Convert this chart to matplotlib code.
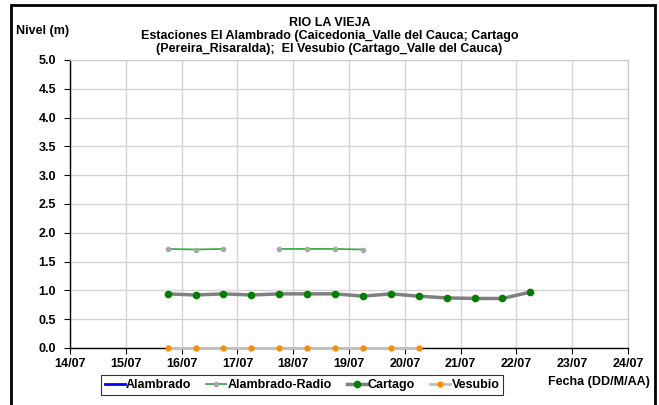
import pandas as pd
import numpy as np
import matplotlib
matplotlib.use("Agg")
import matplotlib.pyplot as plt
import matplotlib.dates as mdates
from matplotlib.patches import Rectangle

plt.rcParams['font.family'] = ['Liberation Sans', 'DejaVu Sans']
plt.rcParams['font.weight'] = 'bold'

# Data (12-hour readings)
cartago_times = pd.date_range("2011-07-15 18:00", periods=14, freq="12h")
cartago = [0.94, 0.92, 0.94, 0.92, 0.94, 0.94, 0.94, 0.90, 0.94, 0.90, 0.87, 0.86, 0.86, 0.97]

vesubio_times = pd.date_range("2011-07-15 18:00", periods=10, freq="12h")
vesubio = [0.0, 0.0, 0.0, 0.0, 0.0, 0.0, 0.0, 0.0, 0.0, 0.0]

radio_times = pd.date_range("2011-07-15 18:00", periods=8, freq="12h")
radio = [1.72, 1.71, 1.72, np.nan, 1.72, 1.72, 1.72, 1.71]

alambrado_times = []
alambrado = []

yticks = np.arange(0, 5.01, 0.5)
x_start = pd.Timestamp("2011-07-14")
x_end = pd.Timestamp("2011-07-24")

fig = plt.figure(figsize=(6.59, 4.05), dpi=100)
ax = fig.add_axes([70 / 659, 57 / 405, 558 / 659, 288 / 405])

ax.plot(alambrado_times, alambrado, color="#0000ff", lw=2, label="Alambrado")
ax.plot(radio_times, radio, color="#3cb043", lw=1.3, marker="o", ms=3,
        mfc="#a6a6a6", mec="#a6a6a6", label="Alambrado-Radio")
ax.plot(cartago_times, cartago, color="#808080", lw=2.5, marker="o", ms=4.5,
        mfc="#008000", mec="#008000", label="Cartago")
ax.plot(vesubio_times, vesubio, color="#c0c0c0", lw=2, marker="o", ms=3.5,
        mfc="#ff8c00", mec="#ff8c00", label="Vesubio", clip_on=False, zorder=5)

ax.set_xlim(x_start, x_end)
ax.set_ylim(0, 5)
ax.set_yticks(yticks)
ax.yaxis.set_major_formatter(plt.FormatStrFormatter("%.1f"))
ax.xaxis.set_major_locator(mdates.DayLocator())
ax.xaxis.set_major_formatter(mdates.DateFormatter("%d/%m"))

ax.grid(True, color="#d4d4d4", lw=1)
ax.set_axisbelow(True)
for s in ["top", "right"]:
    ax.spines[s].set_color("#c8c8c8")
for s in ["left", "bottom"]:
    ax.spines[s].set_color("black")
    ax.spines[s].set_linewidth(1)
ax.tick_params(labelsize=9, length=4, width=0.8, direction="out")
ax.tick_params(axis="y", pad=6)
ax.tick_params(axis="x", pad=3)
for lab in ax.get_xticklabels() + ax.get_yticklabels():
    lab.set_fontweight("bold")

fig.text(0.5, 1 - 17 / 405, "RIO LA VIEJA\nEstaciones El Alambrado (Caicedonia_Valle del Cauca; Cartago\n"
         "(Pereira_Risaralda);  El Vesubio (Cartago_Valle del Cauca)",
         ha="center", va="top", fontsize=9, fontweight="bold", linespacing=1.1)
fig.text(16 / 659, 1 - 31 / 405, "Nivel (m)", ha="left", va="center",
         fontsize=9, fontweight="bold")
fig.text(650 / 659, 1 - 382 / 405, "Fecha (DD/M/AA)", ha="right", va="center",
         fontsize=9, fontweight="bold")

leg = fig.legend(loc="center", bbox_to_anchor=(302 / 659, 1 - 385 / 405), ncol=4,
                 fontsize=9, frameon=True, fancybox=False, handlelength=1.6,
                 handletextpad=0.1, columnspacing=1.2, borderpad=0.3)
leg.get_frame().set_edgecolor("black")
leg.get_frame().set_linewidth(0.8)

fig.add_artist(Rectangle((11 / 659, -0.05), 644 / 659, 1 - 5 / 405 + 0.05,
                         transform=fig.transFigure, fill=False, ec="black", lw=2))

plt.savefig("out.png", dpi=100)
